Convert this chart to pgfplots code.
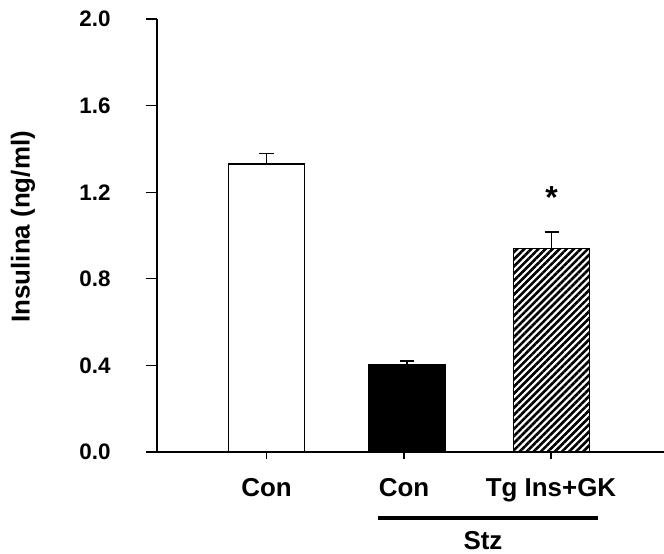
\documentclass[border=0pt]{standalone}
\usepackage{fontspec}
\setmainfont{Liberation Sans}
\usepackage{pgfplots}
\pgfplotsset{compat=1.18}
\usetikzlibrary{patterns.meta}
\begin{document}
\begin{tikzpicture}
\path[use as bounding box] (-157bp,-102bp) rectangle (507bp,452bp);
\begin{axis}[
  at={(0,0)}, anchor=south west,
  scale only axis, width=507bp, height=433bp,
  xmin=157, xmax=664, ymin=0, ymax=2,
  axis x line*=bottom, axis y line*=left,
  axis line style={line width=1.4bp},
  tick align=outside,
  major tick length=11bp,
  xtick style={/pgfplots/major tick length=7bp},
  tick style={line width=1.2bp, black},
  ytick={0,0.4,0.8,1.2,1.6,2.0},
  /pgf/number format/.cd, fixed, fixed zerofill, precision=1, assume math mode=true,
  /pgfplots/.cd,
  yticklabel style={font=\fontsize{22.5}{24}\selectfont\bfseries, anchor=east, xshift=-32bp},
  xtick={266.5,404,551},
  xticklabels={Con,Con,Tg Ins+GK},
  xticklabel style={font=\fontsize{26}{28}\selectfont\bfseries, anchor=center, text height=18.6bp, text depth=5bp, yshift=-26.5bp},
  ylabel={Insulina (ng/ml)},
  ylabel style={font=\fontsize{26}{28}\selectfont\bfseries, at={(axis description cs:-0.2643,0.52)}, anchor=center},
  clip=false,
  ybar, bar width=76,
]
\addplot[ybar, bar shift=0pt, fill=white, draw=black, line width=1.4bp,
  error bars/.cd, y dir=plus, y explicit, error mark=-,
  error bar style={line width=1.4bp},
  error mark options={line width=1.4bp, mark size=7bp, rotate=90}]
  coordinates {(266.5,1.33) +- (0,0.05)};
\addplot[ybar, bar shift=0pt, fill=black, draw=black, line width=1.4bp,
  error bars/.cd, y dir=plus, y explicit, error mark=-,
  error bar style={line width=1.4bp},
  error mark options={line width=1.4bp, mark size=7bp, rotate=90}]
  coordinates {(407,0.405) +- (0,0.015)};
\addplot[ybar, bar shift=0pt, draw=black, line width=1.4bp,
  pattern={Lines[angle=45,distance=5bp,line width=2.6bp]}, pattern color=black,
  error bars/.cd, y dir=plus, y explicit, error mark=-,
  error bar style={line width=1.4bp},
  error mark options={line width=1.4bp, mark size=7bp, rotate=90}]
  coordinates {(551.5,0.94) +- (0,0.077)};
\draw[line width=1.4bp] (axis cs:157,0) -- (axis cs:146,0);
\node[font=\fontsize{32}{32}\selectfont\bfseries, anchor=north, inner sep=0pt] at (axis cs:551.5,1.225) {*};
\draw[line width=3.5bp] (axis cs:378,-0.305) -- (axis cs:598,-0.305);
\node[font=\fontsize{26}{28}\selectfont\bfseries] at (axis cs:483,-0.41) {Stz};
\end{axis}
\end{tikzpicture}
\end{document}
